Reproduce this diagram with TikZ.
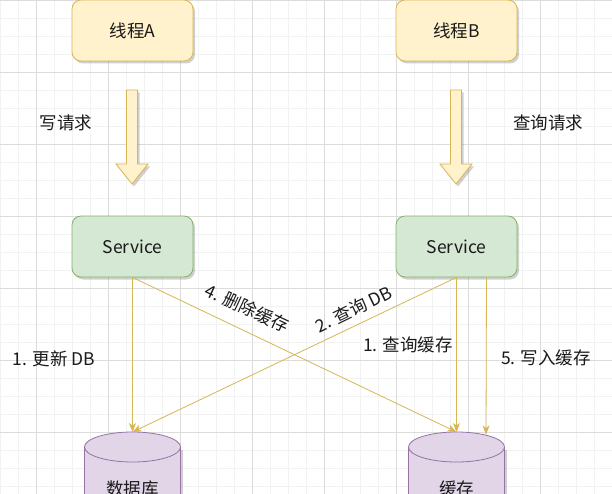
\documentclass[tikz,border=0pt]{standalone}
\usepackage{fontspec}
\setmainfont{Noto Sans CJK SC}
\usetikzlibrary{arrows.meta,shadows,calc}
\definecolor{yfill}{HTML}{FFF2CC}
\definecolor{ydraw}{HTML}{D6B656}
\definecolor{gfill}{HTML}{D5E8D4}
\definecolor{gdraw}{HTML}{82B366}
\definecolor{pfill}{HTML}{E1D5E7}
\definecolor{pdraw}{HTML}{9673A6}
\definecolor{txt}{HTML}{1A1A1A}
\definecolor{gmin}{HTML}{F2F2F2}
\definecolor{gmaj}{HTML}{DCDCDC}
\begin{document}
\begin{tikzpicture}[x=1pt,y=-1pt,
  every node/.style={font=\fontsize{17.5}{21}\selectfont, text=txt},
  shad/.style={drop shadow={shadow xshift=2pt,shadow yshift=-2.5pt,opacity=0.3,fill=black!60}},
  box/.style={rounded corners=9pt, minimum width=121pt, minimum height=61pt, inner sep=0pt, line width=0.8pt, shad},
  thread/.style={box, fill=yfill, draw=ydraw},
  svc/.style={box, fill=gfill, draw=gdraw},
  conn/.style={draw=ydraw, line width=0.8pt, -{Stealth[length=9pt,width=7pt,inset=2.5pt]}},
  gridminor/.style={draw=gmin, line width=0.6pt},
  gridmajor/.style={draw=gmaj, line width=0.7pt},
  blockarrow/.pic={\draw[fill=yfill,draw=ydraw,line width=0.8pt,shad] (-5.5,0) -- (-5.5,74) -- (-16,74) -- (0,94) -- (16,74) -- (5.5,74) -- (5.5,0) -- cycle;},
  cyl/.pic={
    \fill[pfill, shad] (-48,15) rectangle (48,140);
    \draw[pdraw, line width=0.8pt] (-48,15) -- (-48,140) (48,15) -- (48,140);
    \draw[pdraw, fill=pfill, line width=0.8pt] (0,15) ellipse[x radius=48, y radius=15];
  }
]
\useasboundingbox (0,0) rectangle (612,494);
\fill[white] (0,0) rectangle (612,494);
% grid
\foreach \x in {0,18,...,612} \draw[gridminor] (\x,0) -- (\x,494);
\foreach \y in {0,18,...,494} \draw[gridminor] (0,\y) -- (612,\y);
\foreach \x in {36,108,...,612} \draw[gridmajor] (\x,0) -- (\x,494);
\foreach \y in {0,72,...,494} \draw[gridmajor] (0,\y) -- (612,\y);

% boxes
\node[thread] (tA) at (132.5,30.5) {线程A};
\node[thread] (tB) at (456.5,30.5) {线程B};
\node[svc] (sA) at (132.5,246.5) {Service};
\node[svc] (sB) at (456.5,246.5) {Service};

% block arrows
\pic (arrA) at (132,90) {blockarrow};
\pic (arrB) at (456,90) {blockarrow};

% cylinders
\pic (db) at (132.5,432) {cyl};
\pic (cache) at (456.5,432) {cyl};
\node (dbl) at (132.5,489) {数据库};
\node (cl) at (456.5,489) {缓存};

\coordinate (dbtop) at (132.5,432);
\coordinate (cachetop) at (456.5,432);
\coordinate (cacheR) at (486,434.5);

% connectors
\draw[conn] (sA.south) -- (dbtop);
\draw[conn] (sA.south) -- (cachetop);
\draw[conn] (sB.south) -- (dbtop);
\draw[conn] (sB.south) -- (cachetop);
\draw[conn] ([xshift=30pt]sB.south) -- (cacheR);

% labels
\node (wq) at (66,123) {写请求};
\node (qq) at (548,123) {查询请求};
\node (l1) at (54,359) {1. 更新 DB};
\node[rotate=-25] (l4) at (247,308) {4. 删除缓存};
\node[rotate=26] (l2) at (354,309) {2. 查询 DB};
\node (l1b) at (408,345) {1. 查询缓存};
\node (l5) at (546,358) {5. 写入缓存};
\end{tikzpicture}
\end{document}
